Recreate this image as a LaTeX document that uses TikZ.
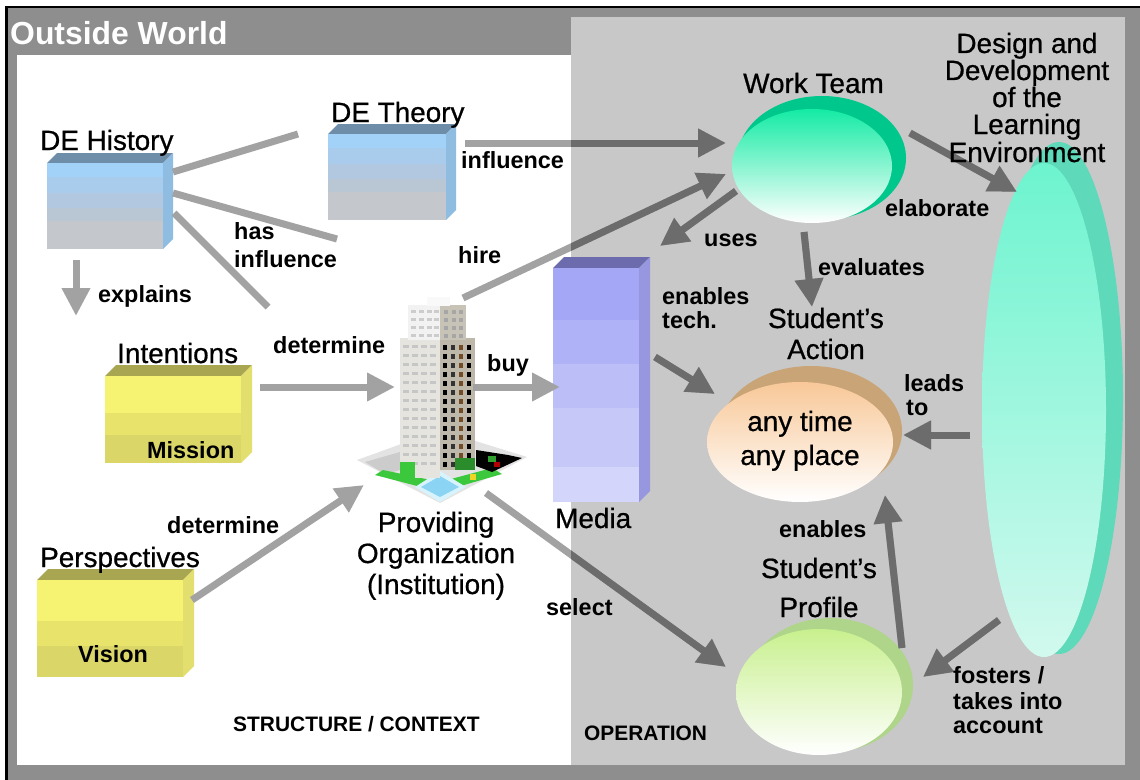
\documentclass[tikz,border=0pt]{standalone}
\usepackage{fontspec}
\setmainfont{Liberation Sans}
\newfontface\medfont[FakeBold=0.7]{Liberation Sans}
\usetikzlibrary{arrows.meta,shapes.geometric}

\definecolor{frameg}{HTML}{8E8E8E}
\definecolor{opg}{HTML}{C8C8C8}
\definecolor{arrL}{HTML}{A2A2A2}
\definecolor{arrD}{HTML}{6C6C6C}
% blue boxes
\definecolor{bTop}{HTML}{6E8DA8}\definecolor{bSide}{HTML}{8FBDE2}
\definecolor{bA}{HTML}{A2D2F8}\definecolor{bB}{HTML}{AACCEC}\definecolor{bC}{HTML}{B2C8E0}
\definecolor{bD}{HTML}{B9C6D4}\definecolor{bE}{HTML}{C4C8CC}
% yellow boxes
\definecolor{yTop}{HTML}{A9A651}\definecolor{ySide}{HTML}{E3DF6E}
\definecolor{yA}{HTML}{F6F272}\definecolor{yB}{HTML}{E7E36B}\definecolor{yC}{HTML}{DAD667}
% media
\definecolor{mTop}{HTML}{6B6BAE}\definecolor{mSide}{HTML}{9797DF}
\definecolor{mA}{HTML}{A4A7F5}\definecolor{mB}{HTML}{AFB2F6}\definecolor{mC}{HTML}{BBBEF7}
\definecolor{mD}{HTML}{C6C9F8}\definecolor{mE}{HTML}{D3D6FA}
% ellipses
\definecolor{wtBack}{HTML}{00C88C}\definecolor{wtTop}{HTML}{14EBA4}\definecolor{wtMid}{HTML}{B4F2DA}
\definecolor{deBack}{HTML}{5ED9B9}\definecolor{deTop}{HTML}{6DF4CF}\definecolor{deBot}{HTML}{D2F9EE}
\definecolor{saBack}{HTML}{C9A477}\definecolor{saTop}{HTML}{F8C898}\definecolor{saMid}{HTML}{F4E2D0}
\definecolor{spBack}{HTML}{AED58A}\definecolor{spTop}{HTML}{C8F08E}\definecolor{spMid}{HTML}{E6F6D2}
% building
\definecolor{bldL}{HTML}{E6E4DE}\definecolor{bldR}{HTML}{BEB8AA}
\definecolor{bldG}{HTML}{3CC83C}\definecolor{pool}{HTML}{8CD4F4}

\colorlet{arrc}{arrL}

% #1 name, #2 x1, #3 y1, #4 x2, #5 y2, #6 depth, #7 top, #8 side, #9 bands (colour/start fraction)
\newcommand{\threebox}[9]{%
  \fill[#7] (#2,#3) -- (#2+#6,#3-#6) -- (#4+#6,#3-#6) -- (#4,#3) -- cycle;
  \fill[#8] (#4,#3) -- (#4+#6,#3-#6) -- (#4+#6,#5-#6) -- (#4,#5) -- cycle;
  \foreach \bc/\ba in {#9} {\fill[\bc] (#2,{#3+\ba*(#5-#3)}) rectangle (#4,#5);}
  \node[inner sep=0pt] (#1) at ({(#2+#4)/2},{(#3+#5)/2}) {};
}

\newcommand{\connectors}{%
  \draw[bar] (l1s) -- (l1e);
  \draw[bar] (l2s) -- (l2e);
  \draw[bar] (l3s) -- (l3e);
  \draw[arr] (explS) -- (explE);
  \draw[arr] (inflS) -- (inflE);
  \draw[arr] (hireS) -- (hireE);
  \draw[arr] (usesS) -- (usesE);
  \draw[arr] (detAS) -- (detAE);
  \draw[arr] (buyS) -- (buyE);
  \draw[arr] (detBS) -- (detBE);
  \draw[arr] (selS) -- (selE);
  \draw[arr] (techS) -- (techE);
  \draw[arr] (elabS) -- (elabE);
  \draw[arr] (evalS) -- (evalE);
  \draw[arr] (leadS) -- (leadE);
  \draw[arr] (enabS) -- (enabE);
  \draw[arr] (fostS) -- (fostE);
}

\begin{document}
\begin{tikzpicture}[x=1bp,y=-1bp,
  big/.style={font=\fontsize{28}{30}\medfont, inner sep=0pt},
  lab/.style={font=\fontsize{23.5}{26}\selectfont\bfseries, inner sep=0pt},
  capsl/.style={font=\fontsize{21}{24}\selectfont\bfseries, inner sep=0pt},
  ow/.style={font=\fontsize{32}{34}\selectfont\bfseries, text=white, inner sep=0pt},
  arr/.style={line width=7bp, draw=arrc, -{Triangle[length=28bp,width=27bp]}},
  bar/.style={line width=7bp, draw=arrc},
  elnode/.style={ellipse, inner sep=0pt}]
\useasboundingbox (0,0) rectangle (1140,780);

% ---------- frame and regions ----------
\fill[white] (0,0) rectangle (1140,780);
\fill[frameg] (5,6) rectangle (1140,780);
\fill[black] (5,6) rectangle (1140,8.5);
\fill[black] (5,6) rectangle (8,780);
\fill[white] (17,55) rectangle (571,765);
\fill[opg] (571,17) rectangle (1125,765);

% ---------- boxes ----------
\threebox{hist}{47}{163}{163}{249}{10}{bTop}{bSide}{bA/0,bB/0.16,bC/0.35,bD/0.52,bE/0.68}
\threebox{theo}{328}{134}{446}{220}{10}{bTop}{bSide}{bA/0,bB/0.16,bC/0.35,bD/0.52,bE/0.68}
\threebox{inte}{105}{376}{241}{463}{11}{yTop}{ySide}{yA/0,yB/0.42,yC/0.68}
\threebox{pers}{37}{580}{183}{677}{11}{yTop}{ySide}{yA/0,yB/0.42,yC/0.68}
\threebox{media}{553}{268}{639}{502}{11}{mTop}{mSide}{mA/0,mB/0.222,mC/0.41,mD/0.598,mE/0.85}

% ---------- ellipses ----------
% Design and Development
\fill[deBack] (1059,398) ellipse [x radius=64, y radius=256];
\shade[top color=deTop, bottom color=deBot] (1044,410) ellipse [x radius=62, y radius=247];
\node[elnode, minimum width=124bp, minimum height=494bp] (dd) at (1044,410) {};
% Work Team
\fill[wtBack] (822,158) ellipse [x radius=84, y radius=62];
\shade[top color=wtTop, middle color=wtMid, bottom color=white] (812,166) ellipse [x radius=80, y radius=57];
\node[elnode, minimum width=160bp, minimum height=114bp] (wt) at (812,166) {};
% Student's Action
\fill[saBack] (811,431) ellipse [x radius=91, y radius=65];
\shade[top color=saTop, middle color=saMid, bottom color=white] (800,442) ellipse [x radius=93, y radius=60];
\node[elnode, minimum width=186bp, minimum height=120bp] (sa) at (800,442) {};
% Student's Profile
\fill[spBack] (830,685) ellipse [x radius=83, y radius=67];
\shade[top color=spTop, middle color=spMid, bottom color=white] (819,692) ellipse [x radius=83, y radius=63];
\node[elnode, minimum width=166bp, minimum height=126bp] (sp) at (819,692) {};

% ---------- building (Providing Organization) ----------
\fill[gray!22] (357,460) -- (440,430) -- (527,457) -- (440,503) -- cycle;
\fill[gray!40] (365,462) -- (400,452) -- (400,470) -- (385,474) -- cycle;
\fill[bldG] (383,470) -- (440,482) -- (492,468) -- (502,474) -- (440,492) -- (375,475) -- cycle;
\fill[black] (476,450) -- (508,455) -- (522,458) -- (492,472) -- (476,466) -- cycle;
\fill[bldG!80!black] (488,456) rectangle ++(8,6);
\fill[red!70!black] (494,462) rectangle ++(6,5);
\fill[yellow!70!brown] (470,474) rectangle ++(6,6);
\fill[white!85!cyan] (440,471) -- (466,487) -- (440,502) -- (415,487) -- cycle;
\fill[pool] (440,476) -- (459,487) -- (440,497) -- (421,487) -- cycle;
% tower
\fill[bldL] (400,338) rectangle (440,478);
\fill[bldR] (440,338) rectangle (475,470);
\fill[gray!10] (408,305) rectangle (440,340);
\fill[bldR!85!white] (440,305) rectangle (466,340);
\fill[gray!5] (427,297) rectangle (450,306);
\foreach \yy in {345,354,...,462} {
  \foreach \xx in {403,412,421,430} {\fill[gray!45] (\xx,\yy) rectangle ++(6,3);}
  \foreach \xx/\cc in {443/black,451/black!80,459/brown!60!black,467/black} {\fill[\cc] (\xx,\yy) rectangle ++(4,5);}
}
\foreach \yy in {310,318,...,334} {
  \foreach \xx in {411,419,427,434} {\fill[gray!40] (\xx,\yy) rectangle ++(5,3);}
  \foreach \xx in {444,452,459} {\fill[gray!70] (\xx,\yy) rectangle ++(4,4);}
}
\fill[bldG] (400,462) rectangle (415,478);
\fill[bldG!70!black] (455,458) rectangle (475,470);
\node[inner sep=0pt, minimum width=170bp, minimum height=205bp] (org) at (440,400) {};

% ---------- connector end points ----------
\coordinate (l1s) at (173,172);  \coordinate (l1e) at (298,134);
\coordinate (l2s) at (173,193);  \coordinate (l2e) at (337,239);
\coordinate (l3s) at (174,213);  \coordinate (l3e) at (268,307);
\coordinate (explS) at (76,260); \coordinate (explE) at (76,316);
\coordinate (inflS) at (465,143); \coordinate (inflE) at (726,143);
\coordinate (hireS) at (463,298); \coordinate (hireE) at (726,174);
\coordinate (usesS) at (736,191); \coordinate (usesE) at (660,246);
\coordinate (detAS) at (260,387); \coordinate (detAE) at (395,387);
\coordinate (buyS) at (473,387);  \coordinate (buyE) at (560,387);
\coordinate (detBS) at (192,600); \coordinate (detBE) at (364,485);
\coordinate (selS) at (486,493);  \coordinate (selE) at (726,667);
\coordinate (techS) at (655,357); \coordinate (techE) at (715,394);
\coordinate (elabS) at (910,133); \coordinate (elabE) at (1017,192);
\coordinate (evalS) at (804,232); \coordinate (evalE) at (812,307);
\coordinate (leadS) at (970,435); \coordinate (leadE) at (903,435);
\coordinate (enabS) at (902,648); \coordinate (enabE) at (885,495);
\coordinate (fostS) at (999,620); \coordinate (fostE) at (923,677);

% ---------- connectors: light over white, dark over the grey region ----------
\connectors
\begin{scope}
  \clip (571,17) rectangle (1125,765);
  \colorlet{arrc}{arrD}
  \connectors
\end{scope}

% ---------- texts ----------
\node[ow, anchor=base west] (tOW) at (10,45) {Outside World};
\node[big, anchor=base west] (tHist) at (40,150) {DE History};
\node[big, anchor=base west] (tTheo) at (331,122) {DE Theory};
\node[lab, anchor=base west] (tInfl) at (461,168) {influence};
\node[lab, anchor=base west] (tHas1) at (234,239) {has};
\node[lab, anchor=base west] (tHas2) at (234,267) {influence};
\node[lab, anchor=base west] (tHire) at (458,263) {hire};
\node[lab, anchor=base west] (tExpl) at (98,302) {explains};
\node[lab, anchor=base west] (tDetA) at (273,353) {determine};
\node[lab, anchor=base west] (tBuy) at (487,371) {buy};
\node[big, anchor=base west] (tInt) at (117,363) {Intentions};
\node[lab, anchor=base west] (tMis) at (147,458) {Mission};
\node[big, anchor=base west] (tPer) at (40,567) {Perspectives};
\node[lab, anchor=base west] (tDetB) at (167,533) {determine};
\node[lab, anchor=base west] (tVis) at (78,662) {Vision};
\node[big, anchor=base] (tProv1) at (436,532) {Providing};
\node[big, anchor=base] (tProv2) at (436,563) {Organization};
\node[big, anchor=base] (tProv3) at (436,594) {(Institution)};
\node[big, anchor=base west] (tMed) at (555,528) {Media};
\node[lab, anchor=base west] (tSel) at (546,615) {select};
\node[capsl, anchor=base west] (tStr) at (233,731) {STRUCTURE / CONTEXT};
\node[capsl, anchor=base west] (tOp) at (584,740) {OPERATION};
\node[big, anchor=base west] (tWT) at (743,93) {Work Team};
\node[big, anchor=base] (tDD1) at (1027,53) {Design and};
\node[big, anchor=base] (tDD2) at (1027,80) {Development};
\node[big, anchor=base] (tDD3) at (1027,107) {of the};
\node[big, anchor=base] (tDD4) at (1027,134) {Learning};
\node[big, anchor=base] (tDD5) at (1027,162) {Environment};
\node[lab, anchor=base west] (tElab) at (885,216) {elaborate};
\node[lab, anchor=base west] (tUses) at (704,246) {uses};
\node[lab, anchor=base west] (tEval) at (818,275) {evaluates};
\node[lab, anchor=base west] (tEnA1) at (662,304) {enables};
\node[lab, anchor=base west] (tEnA2) at (662,328) {tech.};
\node[big, anchor=base] (tSA1) at (826,328) {Student’s};
\node[big, anchor=base] (tSA2) at (826,359) {Action};
\node[lab, anchor=base west] (tLead1) at (904,391) {leads};
\node[lab, anchor=base west] (tLead2) at (906,415) {to};
\node[big, anchor=base] (tAny1) at (800,431) {any time};
\node[big, anchor=base] (tAny2) at (800,465) {any place};
\node[lab, anchor=base west] (tEnB) at (779,537) {enables};
\node[big, anchor=base] (tSP1) at (819,578) {Student’s};
\node[big, anchor=base] (tSP2) at (819,617) {Profile};
\node[lab, anchor=base west] (tFos1) at (953,683) {fosters /};
\node[lab, anchor=base west] (tFos2) at (953,709) {takes into};
\node[lab, anchor=base west] (tFos3) at (953,733) {account};
\end{tikzpicture}
\end{document}
